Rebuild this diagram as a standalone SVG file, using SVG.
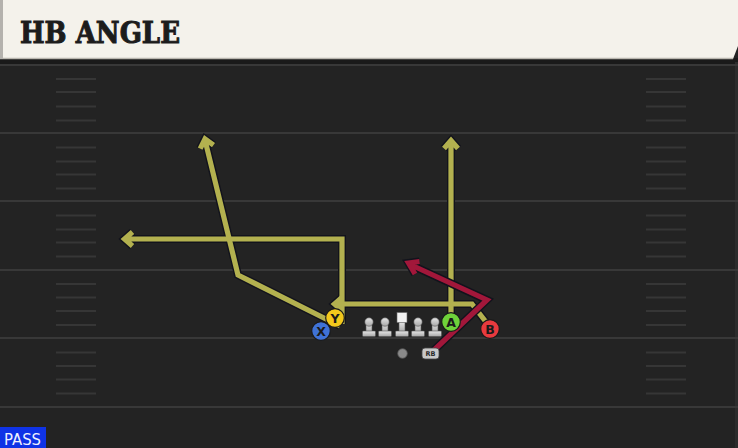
<svg xmlns="http://www.w3.org/2000/svg" xmlns:xlink="http://www.w3.org/1999/xlink" width="738" height="448" viewBox="0 0 738 448">
  <style>
    .yard { stroke: #383838; stroke-width: 2; }
    .hash { stroke: #363636; stroke-width: 2; }
    .outline { fill: none; stroke: #12131c; stroke-width: 8; stroke-linejoin: miter; stroke-linecap: butt; }
    .olive { fill: none; stroke: #b3b14f; stroke-width: 5.2; stroke-linejoin: miter; stroke-linecap: butt; }
    .red { fill: none; stroke: #a2173a; stroke-width: 5.2; stroke-linejoin: miter; stroke-linecap: butt; }
    .player { stroke: #1a1a1a; stroke-width: 1.2; }
    .plabel { font-family: "DejaVu Sans", "Liberation Sans", sans-serif; font-weight: bold; font-size: 12.5px; fill: #1a1a1a; text-anchor: middle; }
    .lm { fill: url(#lmGrad); stroke: #555; stroke-width: 0.6; }
  </style>
  <defs>
    <linearGradient id="lmGrad" x1="0" y1="0" x2="0" y2="1">
      <stop offset="0" stop-color="#e6e6e6"/>
      <stop offset="1" stop-color="#a8a8a8"/>
    </linearGradient>
    <g id="lineman">
      <rect class="lm" x="-3" y="-14" width="6" height="12"/>
      <rect class="lm" x="-6.5" y="-5" width="13" height="5.5" rx="1"/>
      <circle class="lm" cx="0" cy="-14" r="4.2"/>
    </g>
    <path id="routeX" d="M340,326 L238,275 L205,140 M213.5,145.2 L205,139 L200.2,148.6"/>
    <path id="routeY" d="M342,324 L342,239 L125,239 M132.5,232 L124.5,239 L132.5,246"/>
    <path id="routeA" d="M451,316 L451,141 M444,148.5 L451,140.5 L458,148.5"/>
    <path id="routeB" d="M486,322 L472,304 L335,304 M342.5,297 L334.5,304 L342.5,311"/>
    <path id="routeRB" d="M432,352 L487,300 L409,264 M419.5,261.5 L408.5,263 L415,274"/>
  </defs>

  <!-- field -->
  <rect x="0" y="0" width="738" height="448" fill="#232323"/>
  <rect x="0" y="58" width="738" height="6" fill="#1a1a1a"/>
  <rect x="735" y="62" width="3" height="386" fill="#2c2c2c"/>
  <g id="yardlines">
    <line class="yard" x1="0" y1="65" x2="738" y2="65"/>
    <line class="yard" x1="0" y1="133" x2="738" y2="133"/>
    <line class="yard" x1="0" y1="201" x2="738" y2="201"/>
    <line class="yard" x1="0" y1="270" x2="738" y2="270"/>
    <line class="yard" x1="0" y1="338" x2="738" y2="338"/>
    <line class="yard" x1="0" y1="407" x2="738" y2="407"/>
  </g>
  <g id="hashes">
    <path class="hash" d="M56,79 H96 M56,92 H96 M56,106.5 H96 M56,120.5 H96 M56,147.5 H96 M56,161.5 H96 M56,174.5 H96 M56,188.5 H96 M56,215.5 H96 M56,229.5 H96 M56,242.5 H96 M56,256.5 H96 M56,284 H96 M56,297.5 H96 M56,311 H96 M56,325 H96 M56,352.5 H96 M56,366 H96 M56,379.5 H96 M56,393.5 H96"/>
    <path class="hash" d="M646,79 H686 M646,92 H686 M646,106.5 H686 M646,120.5 H686 M646,147.5 H686 M646,161.5 H686 M646,174.5 H686 M646,188.5 H686 M646,215.5 H686 M646,229.5 H686 M646,242.5 H686 M646,256.5 H686 M646,284 H686 M646,297.5 H686 M646,311 H686 M646,325 H686 M646,352.5 H686 M646,366 H686 M646,379.5 H686 M646,393.5 H686"/>
  </g>

  <!-- header -->
  <g id="header">
    <polygon points="0,0 738,0 738,46 733,59 0,59" fill="#f4f2eb"/>
    <line x1="0" y1="58.5" x2="733" y2="58.5" stroke="#b9b6ae" stroke-width="1.5"/>
    <rect x="0" y="0" width="3" height="59" fill="#b4b2ad"/>
    <text x="20" y="43" font-family="DejaVu Serif, Liberation Serif, serif" font-weight="900" font-size="29" fill="#1c1c1c" stroke="#1c1c1c" stroke-width="1" textLength="160" lengthAdjust="spacingAndGlyphs">HB ANGLE</text>
  </g>

  <!-- connectors -->
  <g id="connectors">
    <use xlink:href="#routeX" class="outline"/>
    <use xlink:href="#routeY" class="outline"/>
    <use xlink:href="#routeA" class="outline"/>
    <use xlink:href="#routeB" class="outline"/>
    <use xlink:href="#routeX" class="olive"/>
    <use xlink:href="#routeY" class="olive"/>
    <use xlink:href="#routeA" class="olive"/>
    <use xlink:href="#routeB" class="olive"/>
    <use xlink:href="#routeRB" class="outline"/>
    <use xlink:href="#routeRB" class="red"/>
  </g>

  <!-- offensive line -->
  <g id="oline">
    <use xlink:href="#lineman" x="369" y="336"/>
    <use xlink:href="#lineman" x="385" y="336"/>
    <use xlink:href="#lineman" x="418" y="336"/>
    <use xlink:href="#lineman" x="435" y="336"/>
    <g id="center">
      <rect class="lm" x="399" y="322" width="6" height="10"/>
      <rect class="lm" x="395.5" y="331" width="13" height="5.5" rx="1"/>
      <rect x="397" y="312.5" width="10" height="10" fill="#f2f2f2" stroke="#666" stroke-width="0.6"/>
    </g>
  </g>

  <g id="qb">
    <circle cx="402.5" cy="353.5" r="4.8" fill="#8a8a8a" stroke="#555" stroke-width="0.8"/>
  </g>

  <g id="rb">
    <rect x="422" y="348" width="17" height="11" rx="3" fill="#c9c9c9" stroke="#444" stroke-width="0.8"/>
    <text x="430.5" y="356.3" font-family="DejaVu Sans, sans-serif" font-weight="bold" font-size="6.5" fill="#2a2a2a" text-anchor="middle">RB</text>
  </g>

  <g id="playerX">
    <circle class="player" cx="321" cy="331" r="9.3" fill="#3f72d6"/>
    <text class="plabel" x="321" y="335.5">X</text>
  </g>
  <g id="playerY">
    <circle class="player" cx="335" cy="318" r="9.3" fill="#f2c81c"/>
    <text class="plabel" x="335" y="322.5">Y</text>
  </g>
  <g id="playerA">
    <circle class="player" cx="451" cy="322" r="9.3" fill="#6fd23a"/>
    <text class="plabel" x="451" y="326.5">A</text>
  </g>
  <g id="playerB">
    <circle class="player" cx="490" cy="329" r="9.3" fill="#e83a3e"/>
    <text class="plabel" x="490" y="333.5">B</text>
  </g>

  <g id="passBadge">
    <rect x="0" y="427" width="46" height="21" fill="#0f33e6"/>
    <text x="4" y="445" font-family="DejaVu Sans, Liberation Sans, sans-serif" font-size="15" fill="#eef0ff" textLength="37" lengthAdjust="spacingAndGlyphs">PASS</text>
  </g>
</svg>
